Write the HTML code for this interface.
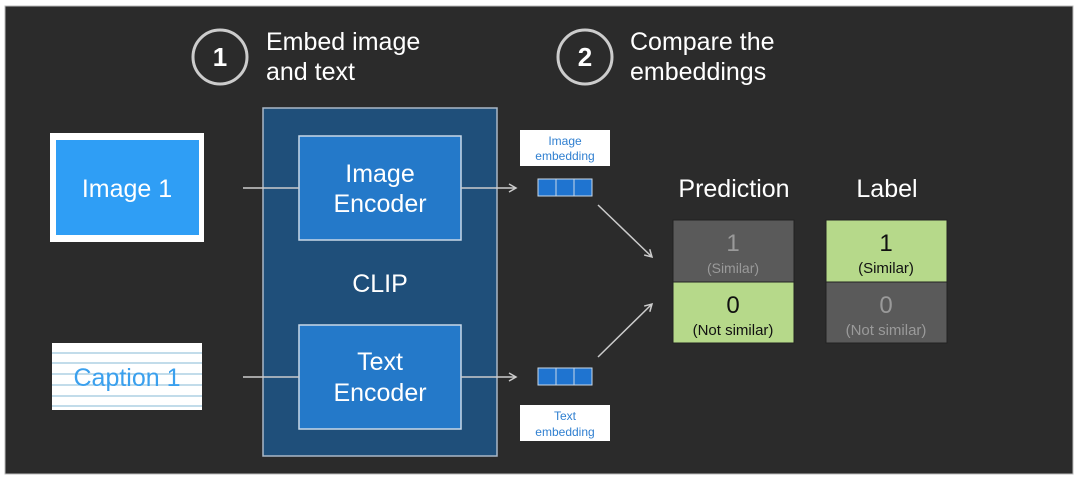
<!DOCTYPE html>
<html><head><meta charset="utf-8"><style>
body{margin:0;background:#fff;width:1080px;height:481px;overflow:hidden;font-family:"Liberation Sans",Arial,sans-serif}
</style></head><body>
<svg width="1080" height="481" viewBox="0 0 1080 481" xmlns="http://www.w3.org/2000/svg" font-family="Liberation Sans, Arial, sans-serif">
<defs><marker id="ah" markerWidth="10" markerHeight="10" refX="8" refY="5" orient="auto" markerUnits="userSpaceOnUse"><path d="M1,1 L8,5 L1,9" fill="none" stroke="#ccc" stroke-width="1.5"/></marker></defs>
<rect x="5" y="6" width="1068" height="468" fill="#2b2b2b" stroke="#bbb" stroke-width="1"/>
<circle cx="220" cy="57" r="27" fill="none" stroke="#ccc" stroke-width="3"/>
<text x="220" y="66" font-size="26" font-weight="bold" fill="#fff" text-anchor="middle">1</text>
<text x="266" y="50" font-size="25" fill="#fff">Embed image</text>
<text x="266" y="80" font-size="25" fill="#fff">and text</text>
<circle cx="585" cy="57" r="27" fill="none" stroke="#ccc" stroke-width="3"/>
<text x="585" y="66" font-size="26" font-weight="bold" fill="#fff" text-anchor="middle">2</text>
<text x="630" y="50" font-size="25" fill="#fff">Compare the</text>
<text x="630" y="80" font-size="25" fill="#fff">embeddings</text>
<rect x="50" y="133" width="154" height="109" fill="#fff"/>
<rect x="56" y="140" width="143" height="95" fill="#2f9ef5"/>
<text x="127" y="197" font-size="25" fill="#fff" text-anchor="middle">Image 1</text>
<rect x="52" y="343" width="150" height="67" fill="#fff"/>
<g stroke="#9ec8de" stroke-width="1.2">
<line x1="52" y1="353" x2="202" y2="353"/><line x1="52" y1="363" x2="202" y2="363"/><line x1="52" y1="374" x2="202" y2="374"/><line x1="52" y1="385" x2="202" y2="385"/><line x1="52" y1="396" x2="202" y2="396"/><line x1="52" y1="406" x2="202" y2="406"/></g>
<text x="127" y="386" font-size="25" fill="#3aa0ee" text-anchor="middle">Caption 1</text>
<rect x="263" y="108" width="234" height="348" fill="#1f4f7a" stroke="#aab8c8" stroke-width="1.5"/>
<rect x="299" y="136" width="162" height="104" fill="#2479c9" stroke="#c8d8e8" stroke-width="1.5"/>
<text x="380" y="182" font-size="25" fill="#fff" text-anchor="middle">Image</text>
<text x="380" y="212" font-size="25" fill="#fff" text-anchor="middle">Encoder</text>
<text x="380" y="292" font-size="25" fill="#fff" text-anchor="middle">CLIP</text>
<rect x="299" y="325" width="162" height="104" fill="#2479c9" stroke="#c8d8e8" stroke-width="1.5"/>
<text x="380" y="370" font-size="25" fill="#fff" text-anchor="middle">Text</text>
<text x="380" y="401" font-size="25" fill="#fff" text-anchor="middle">Encoder</text>
<g stroke="#ccc" stroke-width="1.5" fill="none">
<line x1="243" y1="188" x2="299" y2="188"/>
<line x1="243" y1="377" x2="299" y2="377"/>
<line x1="461" y1="188" x2="516" y2="188" marker-end="url(#ah)"/>
<line x1="461" y1="377" x2="516" y2="377" marker-end="url(#ah)"/>
<line x1="598" y1="205" x2="652" y2="257" marker-end="url(#ah)"/>
<line x1="598" y1="357" x2="652" y2="304" marker-end="url(#ah)"/>
</g>
<rect x="520" y="130" width="90" height="36" fill="#fff"/>
<text x="565" y="145" font-size="12" fill="#2f7fd0" text-anchor="middle">Image</text>
<text x="565" y="160" font-size="12" fill="#2f7fd0" text-anchor="middle">embedding</text>
<g fill="#1f74d0" stroke="#c8d8e8" stroke-width="1">
<rect x="538" y="179" width="18" height="17"/><rect x="556" y="179" width="18" height="17"/><rect x="574" y="179" width="18" height="17"/>
<rect x="538" y="368" width="18" height="17"/><rect x="556" y="368" width="18" height="17"/><rect x="574" y="368" width="18" height="17"/></g>
<rect x="520" y="405" width="90" height="36" fill="#fff"/>
<text x="565" y="420" font-size="12" fill="#2f7fd0" text-anchor="middle">Text</text>
<text x="565" y="436" font-size="12" fill="#2f7fd0" text-anchor="middle">embedding</text>
<text x="734" y="197" font-size="25" fill="#fff" text-anchor="middle">Prediction</text>
<rect x="673" y="220" width="121" height="62" fill="#5a5a5a" stroke="#222"/>
<text x="733" y="251" font-size="24" fill="#9a9a9a" text-anchor="middle">1</text>
<text x="733" y="273" font-size="14" fill="#9a9a9a" text-anchor="middle">(Similar)</text>
<rect x="673" y="282" width="121" height="61" fill="#b6d98a" stroke="#222"/>
<text x="733" y="313" font-size="24" fill="#111" text-anchor="middle">0</text>
<text x="733" y="335" font-size="15" fill="#111" text-anchor="middle">(Not similar)</text>
<text x="887" y="197" font-size="25" fill="#fff" text-anchor="middle">Label</text>
<rect x="826" y="220" width="121" height="62" fill="#b6d98a" stroke="#222"/>
<text x="886" y="251" font-size="24" fill="#111" text-anchor="middle">1</text>
<text x="886" y="273" font-size="15" fill="#111" text-anchor="middle">(Similar)</text>
<rect x="826" y="282" width="121" height="61" fill="#5a5a5a" stroke="#222"/>
<text x="886" y="313" font-size="24" fill="#9a9a9a" text-anchor="middle">0</text>
<text x="886" y="335" font-size="15" fill="#9a9a9a" text-anchor="middle">(Not similar)</text>
</svg>
</body></html>
